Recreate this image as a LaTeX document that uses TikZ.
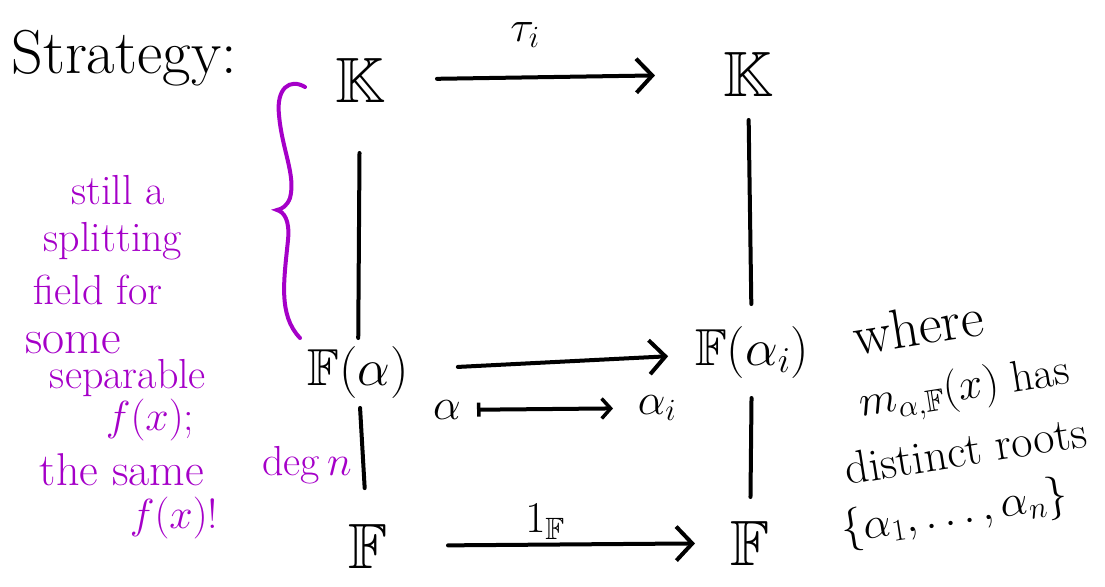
\RequirePackage{fix-cm}
\documentclass[tikz,border=0pt]{standalone}
\usepackage{amssymb}
\DeclareFontFamily{U}{msb}{}
\DeclareFontShape{U}{msb}{m}{n}{<-6> msbm5 <6-8> msbm7 <8-> msbm10}{}
\usetikzlibrary{arrows.meta}
\definecolor{pen}{RGB}{165,0,200}
\tikzset{
  ink/.style={line width=4pt, line cap=round, black},
  arr/.style={ink, -{Straight Barb[length=16pt,width=34pt,line width=4pt]}},
  sarr/.style={ink, {Bar[width=14pt,line width=3.5pt]}-{Straight Barb[length=9pt,width=20pt,line width=3.5pt]}},
  big/.style={inner sep=0pt, font=\fontsize{64}{66}\selectfont},
  mid/.style={inner sep=0pt, font=\fontsize{52}{54}\selectfont},
  lab/.style={inner sep=0pt, font=\fontsize{44}{48}\selectfont},
  note/.style={inner sep=0pt, text=pen, font=\fontsize{42}{44}\selectfont},
  rnote/.style={inner sep=0pt, rotate=9, font=\fontsize{44}{46}\selectfont},
}
\begin{document}
\begin{tikzpicture}[x=1pt,y=-1pt]
\useasboundingbox (0,0) rectangle (1105,586);
% title
\node[inner sep=0pt, font=\fontsize{62}{64}\selectfont] (strat) at (124,58) {Strategy:};
% diagram objects
\node[big] (Ktl) at (360,80) {$\mathbb{K}$};
\node[big] (Ktr) at (748,74) {$\mathbb{K}$};
\node[mid] (Fa) at (358,372) {$\mathbb{F}(\alpha)$};
\node[mid] (Fai) at (752,352) {$\mathbb{F}(\alpha_i)$};
\node[big] (Fbl) at (368,546) {$\mathbb{F}$};
\node[big] (Fbr) at (750,543) {$\mathbb{F}$};
\node[lab] (tau) at (525,35) {$\tau_i$};
\node[lab] (one) at (545,522) {$1_{\mathbb{F}}$};
\node[lab] (al) at (447,410) {$\alpha$};
\node[lab] (ali) at (657,408) {$\alpha_i$};
% connectors
\draw[arr] (Ktl.center) -- (Ktr.center) [shorten <=77pt, shorten >=93pt];
\draw[ink] (Ktl.center) -- (Fa.center) [shorten <=73pt, shorten >=34pt];
\draw[ink] (Ktr.center) -- (Fai.center) [shorten <=46pt, shorten >=48pt];
\draw[arr] (Fa.center) -- (Fai.center) [shorten <=100pt, shorten >=84pt];
\draw[sarr] (al.center) -- (ali.center) [shorten <=30pt, shorten >=44pt];
\draw[ink] (Fa.center) -- (Fbl.center) [shorten <=36pt, shorten >=58pt];
\draw[ink] (Fai.center) -- (Fbr.center) [shorten <=46pt, shorten >=46pt];
\draw[arr] (Fbl.center) -- (Fbr.center) [shorten <=80pt, shorten >=55pt];
% purple brace
\draw[pen, line width=4pt, line cap=round]
  (305,87) .. controls (290,78) and (276,88) .. (279,115)
  .. controls (282,150) and (296,175) .. (290,198)
  .. controls (287,206) and (282,209) .. (277,210)
  .. controls (284,212) and (290,220) .. (288,240)
  .. controls (284,280) and (278,315) .. (300,338);
% purple notes
\node[note] (n1) at (118,190) {still a};
\node[note] (n2) at (113,241) {splitting};
\node[note] (n3) at (98,290) {field for};
\node[note, font=\fontsize{48}{50}\selectfont] (n4) at (73,343) {some};
\node[note] (n5) at (128,378) {separable};
\node[note] (n6) at (150,420) {$f(x)$;};
\node[note, font=\fontsize{46}{48}\selectfont] (n7) at (122,470) {the same};
\node[note] (n8) at (174,518) {$f(x)$!};
\node[note] (deg) at (307,465) {deg\,$n$};
% right notes
\node[rnote, font=\fontsize{56}{58}\selectfont] (w1) at (918,326) {where};
\node[rnote] (w2) at (965,390) {$m_{\alpha,\mathbb{F}}(x)$ has};
\node[rnote, font=\fontsize{46}{48}\selectfont] (w3) at (966,450) {distinct roots};
\node[rnote] (w4) at (955,514) {$\{\alpha_1,\dots,\alpha_n\}$};
\end{tikzpicture}
\end{document}
